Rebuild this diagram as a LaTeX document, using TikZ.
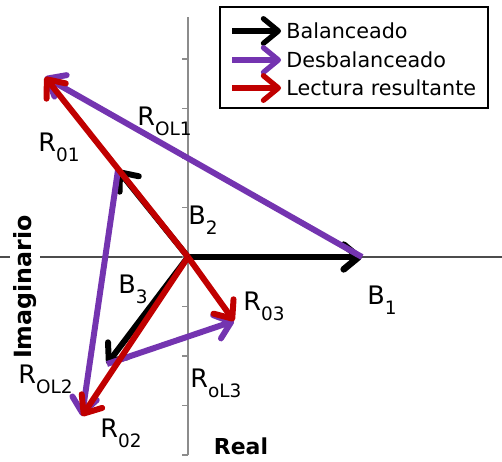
\documentclass[tikz,border=0pt]{standalone}
\usepackage{fontspec}
\setmainfont{DejaVu Sans}
\usetikzlibrary{arrows.meta}

\definecolor{vecpurple}{HTML}{7434B0}
\definecolor{vecred}{HTML}{C00000}
\definecolor{axisgray}{HTML}{8C8C8C}
\newcommand{\vlabel}[2]{#1\raisebox{-6pt}{\fontsize{10.5}{12}\selectfont #2}}

\begin{document}
\begin{tikzpicture}[x=0.02cm, y=-0.02cm,
    >={Straight Barb[length=8.5pt,width=14pt,round]},
    axis/.style={axisgray, line width=1.1pt},
    vec/.style={->, line width=3.4pt},
    lbl/.style={anchor=base west, inner sep=0pt, font=\fontsize{14.5}{16}\selectfont},
    legtext/.style={anchor=west, inner sep=0pt, font=\fontsize{11.8}{13}\selectfont},
    axtitle/.style={inner sep=2pt, font=\bfseries\fontsize{12.5}{14}\selectfont}]
  \useasboundingbox (0,0) rectangle (502,461);

  % axes
  \coordinate (xl) at (0,257);
  \coordinate (xr) at (502,257);
  \coordinate (yt) at (188,17);
  \coordinate (yb) at (188,455);
  \draw[axis, line width=0.8pt, black!70] (xl) -- (xr);
  \draw[axis] (yt) -- (yb);
  \foreach \k in {-4,...,4}
    \draw[axis] (188,257+49.5*\k) -- ++(-6,0);
  \node[axtitle, rotate=90, fill=white, font=\bfseries\fontsize{13.5}{15}\selectfont] (imag) at (25,287) {Imaginario};
  \node[axtitle] (real) at (241,446) {Real};

  % vector tips
  \coordinate (O) at (188,257);
  \coordinate (b1) at (362,257);
  \coordinate (b2) at (118,170);
  \coordinate (b3) at (107,364);
  \coordinate (r1) at (45,77);
  \coordinate (r2) at (82,416);
  \coordinate (r3) at (234,321);

  % balanced
  \draw[vec, black, line width=3.8pt] (O) -- (b1);
  \draw[vec, black] (O) -- (b2);
  \draw[vec, black] (O) -- (b3);
  % unbalanced
  \draw[vec, vecpurple] (b1) -- (r1);
  \draw[vec, vecpurple] (b2) -- (r2);
  \draw[vec, vecpurple] (b3) -- (r3);
  % resulting reading
  \draw[vec, vecred] (O) -- (r1);
  \draw[vec, vecred] (O) -- (r2);
  \draw[vec, vecred] (O) -- (r3);

  % labels
  \node[lbl] (lb1) at (367,304) {\vlabel{B}{1}};
  \node[lbl] (lb2) at (188,224) {\vlabel{B}{2}};
  \node[lbl] (lb3) at (118,293) {\vlabel{B}{3}};
  \node[lbl] (lr1) at (38,151) {\vlabel{R}{01}};
  \node[lbl] (lr2) at (100,437) {\vlabel{R}{02}};
  \node[lbl] (lr3) at (243,310) {\vlabel{R}{03}};
  \node[lbl] (lo1) at (137,125) {\vlabel{R}{OL1}};
  \node[lbl] (lo2) at (18,383) {\vlabel{R}{OL2}};
  \node[lbl] (lo3) at (190,387) {\vlabel{R}{oL3}};

  % legend
  \draw[line width=1pt] (220,7) rectangle (488,108);
  \foreach \y/\c/\t [count=\i] in {31/black/Balanceado, 60/vecpurple/Desbalanceado, 88/vecred/Lectura resultante} {
    \coordinate (ls\i) at (232,\y);
    \coordinate (le\i) at (281,\y);
    \draw[vec, \c, line width=3pt] (ls\i) -- (le\i);
    \node[legtext] (lt\i) at (286,\y) {\t};
  }
\end{tikzpicture}
\end{document}
